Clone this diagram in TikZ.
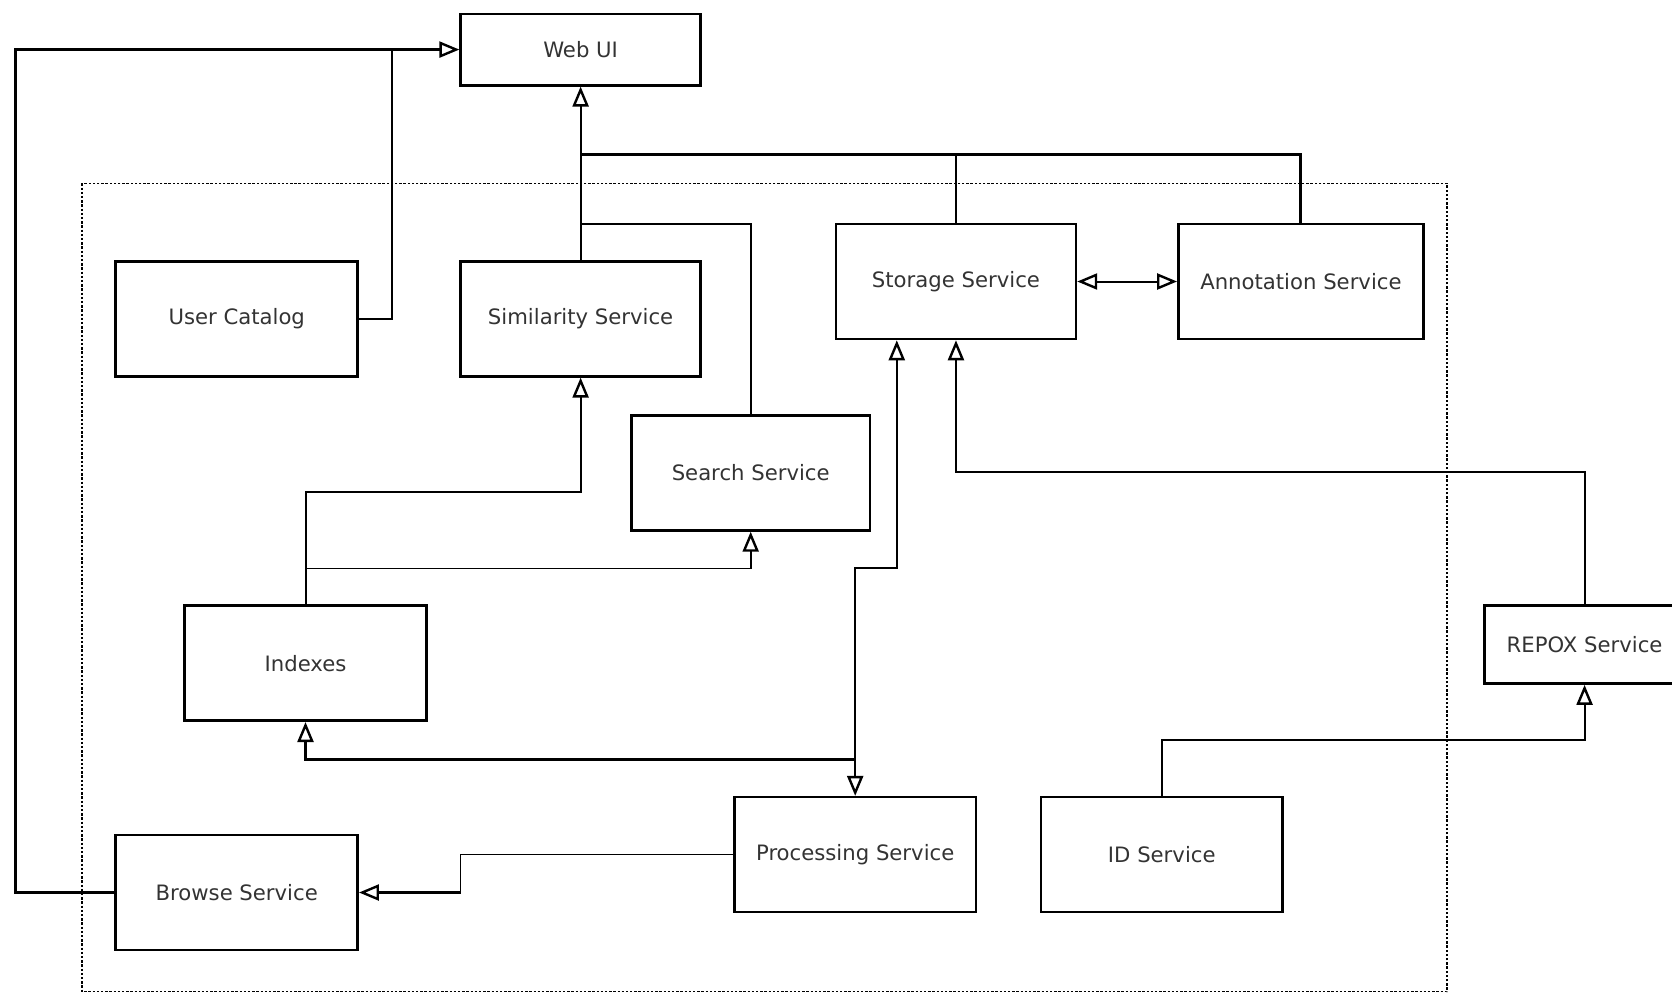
\documentclass[tikz,border=0pt]{standalone}
\usepackage{fontspec}
\setmainfont{DejaVu Sans}
\usetikzlibrary{arrows.meta}
\tikzset{
  svc/.style={draw, line width=1.3pt, rectangle, minimum width=121pt, minimum height=57.5pt,
    inner sep=0pt, font=\fontsize{10.6pt}{12pt}\selectfont, text=black!80},
  conn/.style={line width=1pt},
  heavy/.style={line width=1.5pt},
  light/.style={line width=0.8pt},
  tri/.tip={Triangle[open, length=10pt, width=8pt, line width=1.2pt, fill=white]},
  tip/.style={-tri},
  tips/.style={tri-tri},
}
\begin{document}
\begin{tikzpicture}[x=0.5333pt, y=-0.5333pt]
\useasboundingbox (0,0) rectangle (1568,932);
\clip (0,0) rectangle (1568,932);
% dotted container
\draw[line width=0.8pt, dash pattern=on 1.2pt off 0.9pt] (77,172) rectangle (1357,930);
% nodes
\node[svc, minimum height=35.7pt, minimum width=120pt] (web) at (544.5,46.5) {Web UI};
\node[svc] (uc) at (222,299) {User Catalog};
\node[svc, minimum width=120pt] (sim) at (544.5,299) {Similarity Service};
\node[svc, minimum width=120pt] (sto) at (896.5,264) {Storage Service};
\node[svc, minimum width=122.6pt] (ann) at (1220,264) {Annotation Service};
\node[svc, minimum width=119.5pt] (sea) at (704,443.5) {Search Service};
\node[svc] (idx) at (286.5,622) {Indexes};
\node[svc, minimum width=100pt, minimum height=39pt] (rep) at (1486,604.5) {REPOX Service};
\node[svc] (pro) at (802,801.5) {Processing Service};
\node[svc] (ids) at (1089.5,801.5) {ID Service};
\node[svc] (bro) at (222,837) {Browse Service};
% named joints
\coordinate (jweb) at (368,46.5);
\coordinate (jtop) at (544.5,145);
\coordinate (jsea) at (544.5,210);
\coordinate (jidx) at (286.5,533);
\coordinate (jpro) at (802,712);
\coordinate (jsto) at (841,533);
\coordinate (jbro) at (432,837);
% connectors to Web UI
\draw[heavy, tip] (bro.west) -- (15,837) -- (15,46.5) -- (web.west);
\draw[conn] (uc.east) -- (368,299) -- (jweb);
\draw[conn, tip] (sim.north) -- (web.south);
\draw[conn] (sto.north) -- (896.5,145) -- (jtop);
\draw[heavy] (ann.north) -- (1220,145) -- (jtop);
\draw[conn] (sea.north) -- (704,210) -- (jsea);
\draw[conn, tips] (sto.east) -- (ann.west);
% indexes
\draw[conn, tip] (idx.north) -- (286.5,461) -- (544.5,461) -- (sim.south);
\draw[light, tip] (jidx) -- (704,533) -- (sea.south);
% processing
\draw[conn, tips] (pro.north) -- (802,533) -- (jsto) -- (jsto |- sto.south);
\draw[heavy, tip] (jpro) -- (286.5,712) -- (idx.south);
\draw[light] (pro.west) -- (432,801.5) -- (jbro);
\draw[heavy, tip] (jbro) -- (bro.east);
% repox
\draw[conn, tip] (rep.north) -- (1486,443) -- (896.5,443) -- (sto.south);
\draw[conn, tip] (ids.north) -- (1089.5,694) -- (1486,694) -- (rep.south);
\end{tikzpicture}
\end{document}
